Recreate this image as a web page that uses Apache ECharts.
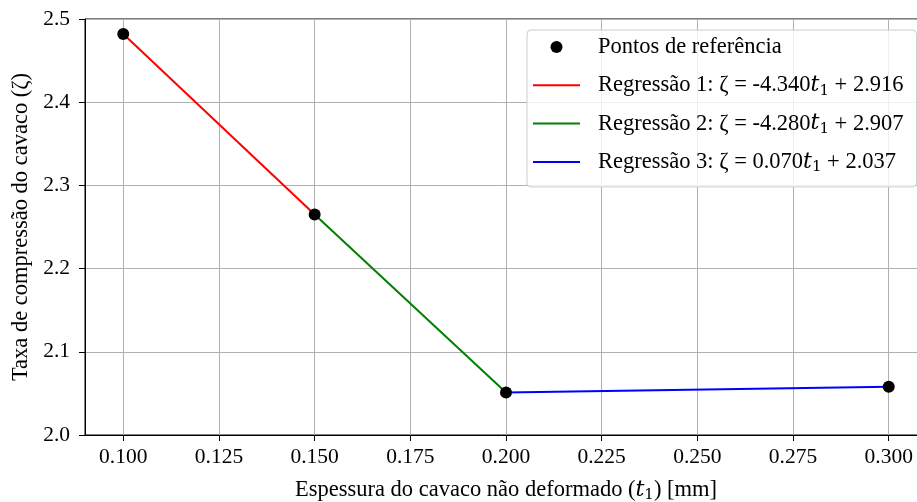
<!DOCTYPE html>
<html>
<head>
<meta charset="utf-8">
<title>Taxa de compressão do cavaco</title>
<script src="https://cdn.jsdelivr.net/npm/echarts@6/dist/echarts.min.js"></script>
<style>
  html, body { margin: 0; padding: 0; background: #fff; }
  #chart { width: 917px; height: 502px; }
</style>
</head>
<body>
<div id="chart"></div>
<script>
// Espessura do cavaco (mm) e taxa de compressão medida
const thickness = [0.100, 0.150, 0.200, 0.300];
const ratio = [2.482, 2.265, 2.051, 2.058];

// Regressões por trecho: índices dos pontos inicial e final, coeficientes
const segStart = [0, 1, 2];
const segEnd = [1, 2, 3];
const slopes = ['-4.340', '-4.280', '0.070'];
const intercepts = ['2.916', '2.907', '2.037'];
const segColors = ['#ff0000', '#008000', '#0000ff'];

const xTicks = [0.100, 0.125, 0.150, 0.175, 0.200, 0.225, 0.250, 0.275, 0.300];

const serif = '"Liberation Serif", "Times New Roman", serif';
const ink = '#000';
const mathRich = {
  t: { fontFamily: '"DejaVu Serif"', fontStyle: 'italic', fontSize: 22, color: ink },
  s: { fontFamily: '"DejaVu Serif"', fontSize: 15, color: ink, verticalAlign: 'bottom', lineHeight: 18 }
};

// Ícone de linha fina para a legenda (mantém proporção dentro da caixa)
const lineIcon = 'path://M0,0H47V2H0Z';

const regName = i => 'Regressão ' + (i + 1);

const series = [];
segStart.forEach((s, i) => {
  const pts = [];
  for (let k = s; k <= segEnd[i]; k++) pts.push([thickness[k], ratio[k]]);
  series.push({
    name: regName(i),
    type: 'line',
    data: pts,
    symbol: 'none',
    lineStyle: { color: segColors[i], width: 2 },
    itemStyle: { color: segColors[i] },
    z: 2
  });
});
series.unshift({
  name: 'Pontos de referência',
  type: 'scatter',
  data: thickness.map((x, i) => [x, ratio[i]]),
  symbolSize: 12,
  itemStyle: { color: '#000', opacity: 1 },
  z: 5
});

const chart = echarts.init(document.getElementById('chart'), null, { renderer: 'canvas' });
chart.setOption({
  animation: false,
  backgroundColor: '#fff',
  grid: {
    left: 85, top: 19, width: 842, height: 416,
    containLabel: false,
    outerBoundsMode: 'none',
    show: true, borderColor: '#000', borderWidth: 1, backgroundColor: '#fff'
  },
  xAxis: {
    type: 'value',
    min: 0.09, max: 0.31,
    name: 'Espessura do cavaco não deformado ({t|t}{s|1}) [mm]',
    nameLocation: 'middle',
    nameGap: 42,
    nameTextStyle: {
      fontFamily: serif, fontSize: 22.5, color: ink, lineHeight: 26,
      rich: mathRich
    },
    axisLine: { show: true, onZero: false, lineStyle: { color: '#000', width: 1 } },
    axisTick: { show: true, inside: false, length: 6, customValues: xTicks, lineStyle: { color: '#000' } },
    axisLabel: {
      customValues: xTicks,
      formatter: v => v.toFixed(3),
      fontFamily: serif, fontSize: 21.5, color: ink, margin: 11
    },
    splitLine: { show: true, lineStyle: { color: '#b0b0b0', width: 1 } }
  },
  yAxis: {
    type: 'value',
    min: 2.0, max: 2.5, interval: 0.1,
    name: 'Taxa de compressão do cavaco (ζ)',
    nameLocation: 'middle',
    nameGap: 52,
    nameTextStyle: { fontFamily: serif, fontSize: 22.5, color: ink },
    axisLine: { show: true, lineStyle: { color: '#000', width: 1 } },
    axisTick: { show: true, inside: false, length: 6, lineStyle: { color: '#000' } },
    axisLabel: {
      formatter: v => v.toFixed(1),
      fontFamily: serif, fontSize: 21.5, color: ink, margin: 15
    },
    splitLine: { show: true, lineStyle: { color: '#b0b0b0', width: 1 } }
  },
  legend: {
    orient: 'vertical',
    left: 527, top: 30,
    padding: [4, 13, 12, 6],
    itemGap: 12.3,
    itemWidth: 47, itemHeight: 12,
    backgroundColor: 'rgba(255,255,255,0.8)',
    borderColor: '#cccccc', borderWidth: 1, borderRadius: 4,
    data: [
      { name: 'Pontos de referência', icon: 'circle' },
      { name: regName(0), icon: lineIcon },
      { name: regName(1), icon: lineIcon },
      { name: regName(2), icon: lineIcon }
    ],
    formatter: name => {
      const i = [0, 1, 2].find(k => regName(k) === name);
      if (i === undefined) return name;
      return name + ': ζ = ' + slopes[i] + '{t|t}{s|1} + ' + intercepts[i];
    },
    textStyle: {
      fontFamily: serif, fontSize: 22.5, color: ink, lineHeight: 26,
      padding: [0, 0, 0, 13],
      rich: mathRich
    }
  },
  series: series
});
</script>
</body>
</html>
